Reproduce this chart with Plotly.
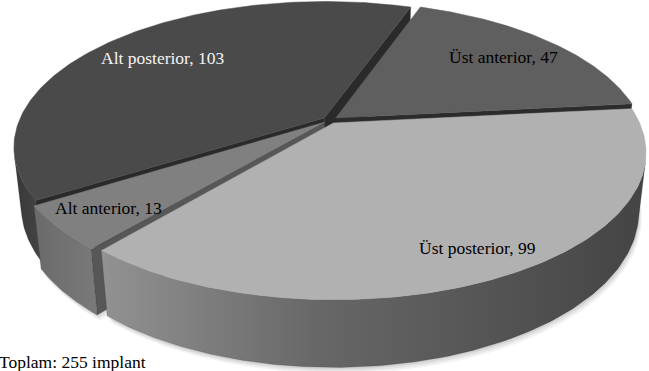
import numpy as np
import plotly.graph_objects as go

# ---- data ----
labels = ["Üst anterior", "Üst posterior", "Alt anterior", "Alt posterior"]
values = [47, 99, 13, 103]
total_note = "Toplam: 255 implant"

# ---- style ----
top_colors = ["#5f5f5f", "#b1b1b1", "#808080", "#4a4a4a"]
wall_scales = [
    [[0, "#4a4a4a"], [1, "#3a3a3a"]],
    [[0, "#929292"], [0.4, "#676767"], [1, "#444444"]],
    [[0, "#6a6a6a"], [1, "#7a7a7a"]],
    [[0, "#383838"], [1, "#454545"]],
]
face_colors = ["#2c2c2c", "#5a5a5a", "#575757", "#2a2a2a"]
label_colors = ["#000000", "#000000", "#000000", "#f4f4f4"]
label_r = [0.77, 0.85, 0.83, 0.75]

W, H = 649, 371
ELEV = np.radians(27.4)      # camera elevation
DIST = 4.47                  # camera distance (disk radius = 1)
FOC = 1363                   # focal length in px
CX, CY = 330, 120            # screen position of the disk centre
THICK = 0.22                 # disk thickness
EXPLODE = 0.024              # radial offset of every slice
START = 70.5                 # angle of the first slice edge, slices run clockwise

cphi, sphi = np.cos(ELEV), np.sin(ELEV)
cam = np.array([0.0, -DIST * cphi, DIST * sphi])
e_right = np.array([1.0, 0.0, 0.0])
e_up = np.array([0.0, sphi, cphi])
e_fwd = np.array([0.0, cphi, -sphi])


def project(x, y, z):
    x, y, z = np.broadcast_arrays(np.asarray(x, float), np.asarray(y, float), np.asarray(z, float))
    P = np.stack([x, y, z], axis=-1) - cam
    xc, yc, zc = P @ e_right, P @ e_up, P @ e_fwd
    return CX + FOC * xc / zc, CY - FOC * yc / zc, zc


vals = np.array(values, float)
fracs = vals / vals.sum()
edges = START - np.concatenate([[0], np.cumsum(fracs)]) * 360.0

fig = go.Figure()
walls = []
tops = []
shadows = []

for i in range(len(values)):
    a0, a1 = np.radians(edges[i]), np.radians(edges[i + 1])
    mid = 0.5 * (a0 + a1)
    ox, oy = EXPLODE * np.cos(mid), EXPLODE * np.sin(mid)
    t = np.linspace(a0, a1, 160)
    rx, ry = ox + np.cos(t), oy + np.sin(t)

    # top face
    sx, sy, _ = project(np.r_[ox, rx, ox], np.r_[oy, ry, oy], 0.0)
    tops.append((sx, sy, i))

    # soft shadow from the bottom face
    bx, by, _ = project(np.r_[ox, rx, ox], np.r_[oy, ry, oy], -THICK)
    shadows.append((bx, by))

    # outer curved wall, only the part facing the camera
    vis = -1 - (ox * np.cos(t) + oy * np.sin(t)) - DIST * cphi * np.sin(t) > 0
    if vis.any():
        idx = np.where(vis)[0]
        tt = t[idx[0]: idx[-1] + 1]
        wx, wy = ox + np.cos(tt), oy + np.sin(tt)
        px1, py1, z1 = project(wx, wy, 0.0)
        px2, py2, z2 = project(wx[::-1], wy[::-1], -THICK)
        walls.append((np.mean(z1), np.r_[px1, px2, px1[0]], np.r_[py1, py2, py1[0]],
                      dict(fillgradient=dict(type="horizontal", colorscale=wall_scales[i]))))

    # radial cut faces
    for a, sgn in ((a0, 1), (a1, -1)):
        n = sgn * np.array([-np.sin(a), np.cos(a), 0.0])
        pm = np.array([ox + 0.5 * np.cos(a), oy + 0.5 * np.sin(a), -THICK / 2])
        if np.dot(cam - pm, n) > 0:
            fx = [ox, ox + np.cos(a), ox + np.cos(a), ox, ox]
            fy = [oy, oy + np.sin(a), oy + np.sin(a), oy, oy]
            fz = [0, 0, -THICK, -THICK, 0]
            px, py, zz = project(fx, fy, fz)
            walls.append((np.mean(zz), px, py, dict(fillcolor=face_colors[i])))

# shadow layers
for dx, dy, op in [(3, 6, 0.05), (2, 4, 0.06), (1, 2, 0.07)]:
    for bx, by in shadows:
        fig.add_trace(go.Scatter(x=bx + dx, y=by + dy, mode="lines", fill="toself",
                                 line=dict(width=0), fillcolor=f"rgba(0,0,0,{op})",
                                 hoverinfo="skip", showlegend=False))

for _, px, py, fill in sorted(walls, key=lambda w: -w[0]):
    fig.add_trace(go.Scatter(x=px, y=py, mode="lines", fill="toself",
                             line=dict(width=0.5, color="rgba(40,40,40,0.4)"),
                             hoverinfo="skip", showlegend=False, **fill))

for sx, sy, i in tops:
    fig.add_trace(go.Scatter(x=sx, y=sy, mode="lines", fill="toself",
                             fillcolor=top_colors[i], line=dict(width=0.5, color=top_colors[i]),
                             name=labels[i], hoverinfo="name", showlegend=False))

# slice labels
for i in range(len(values)):
    a0, a1 = np.radians(edges[i]), np.radians(edges[i + 1])
    mid = 0.5 * (a0 + a1)
    r = label_r[i] + EXPLODE
    lx, ly, _ = project(r * np.cos(mid), r * np.sin(mid), 0.0)
    fig.add_annotation(x=float(lx), y=float(ly), text=f"{labels[i]}, {values[i]}",
                       showarrow=False, xanchor="center", yanchor="middle",
                       font=dict(family="Liberation Serif", size=17.5, color=label_colors[i]))

fig.add_annotation(x=-3 / W, y=1 - 362 / H, xref="paper", yref="paper", text=total_note,
                   showarrow=False, xanchor="left", yanchor="middle",
                   font=dict(family="Liberation Serif", size=17.5, color="#000000"))

fig.update_layout(
    width=W, height=H, margin=dict(l=0, r=0, t=0, b=0),
    paper_bgcolor="white", plot_bgcolor="white", showlegend=False,
    xaxis=dict(range=[0, W], visible=False, fixedrange=True),
    yaxis=dict(range=[H, 0], visible=False, fixedrange=True),
)

fig.write_html("out.html")
